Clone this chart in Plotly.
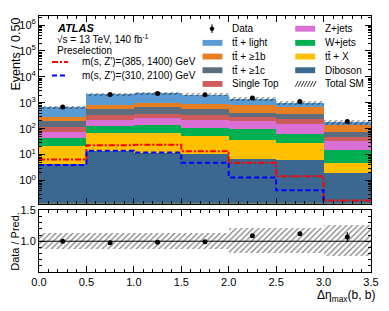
import plotly.graph_objects as go

# ---------------- data ----------------
bin_edges = [0.0, 0.5, 1.0, 1.5, 2.0, 2.5, 3.0, 3.5]
bin_centers = [0.25, 0.75, 1.25, 1.75, 2.25, 2.75, 3.25]

diboson = [4.3, 13.5, 11.5, 10.8, 7.0, 6.0, 1.9]
ttx = [18, 57.5, 54.5, 41, 30, 21, 3.0]
wjets = [21, 57, 71, 58, 61, 35, 10.4]
zjets = [31, 98, 125, 116, 97, 88, 18.7]
single_top = [42, 114, 118, 104, 85, 90, 16]
tt_1c = [81, 230, 310, 260, 140, 140, 28]
tt_1b = [89, 260, 310, 330, 400, 280, 64]
tt_light = [404, 1320, 1300, 1160, 600, 340, 38]

data = [690, 2095, 2265, 2060, 1545, 1120, 192]
data_err = [26, 46, 48, 45, 39, 33, 14]
rel_unc = [0.13, 0.13, 0.13, 0.13, 0.205, 0.205, 0.25]

sig_385_1400 = [6.5, 23, 24, 13.5, 4.9, 1.45, 0.17]
sig_310_2100 = [4.0, 14, 12, 4.9, 1.3, 0.42, 0.05]

# order bottom -> top
stack = [
    ("Diboson", diboson, "#3b6890"),
    ("tt̄ + X", ttx, "#ffc000"),
    ("W+jets", wjets, "#00b050"),
    ("Z+jets", zjets, "#da70d6"),
    ("Single Top", single_top, "#cd5c5c"),
    ("tt̄ + ≥1c", tt_1c, "#5d6d7e"),
    ("tt̄ + ≥1b", tt_1b, "#e67e22"),
    ("tt̄ + light", tt_light, "#5a9bd4"),
]

cum = []
run = [0.0] * len(bin_centers)
for name, vals, col in stack:
    run = [a + b for a, b in zip(run, vals)]
    cum.append((name, list(run), col))
total = cum[-1][1]

FONT = "Liberation Sans, Arial, sans-serif"
HATCH = dict(shape="/", fgcolor="black", bgcolor="rgba(0,0,0,0)", size=4, solidity=0.3)

fig = go.Figure()

for name, tops, col in reversed(cum):
    fig.add_trace(go.Bar(
        x=bin_centers, y=tops, width=0.5, name=name,
        marker=dict(color=col, line=dict(width=0)),
        xaxis="x", yaxis="y", showlegend=False, hoverinfo="skip",
    ))

fig.add_trace(go.Bar(
    x=bin_centers,
    y=[2 * u * t for u, t in zip(rel_unc, total)],
    base=[(1 - u) * t for u, t in zip(rel_unc, total)],
    width=0.5, name="Total SM",
    marker=dict(color="rgba(0,0,0,0)", line=dict(width=0), pattern=HATCH),
    xaxis="x", yaxis="y", showlegend=False, hoverinfo="skip",
))

def step(vals):
    return list(vals) + [vals[-1]]

fig.add_trace(go.Scatter(
    x=bin_edges, y=step(sig_385_1400), mode="lines", line_shape="hv",
    line=dict(color="#ff0000", width=2, dash="6px,2px,2px,2px"),
    name="m(s, Z')=(385, 1400) GeV", xaxis="x", yaxis="y", showlegend=False))
fig.add_trace(go.Scatter(
    x=bin_edges, y=step(sig_310_2100), mode="lines", line_shape="hv",
    line=dict(color="#0000ff", width=2, dash="5px,3px"),
    name="m(s, Z')=(310, 2100) GeV", xaxis="x", yaxis="y", showlegend=False))

fig.add_trace(go.Scatter(
    x=bin_centers, y=data, mode="markers", name="Data",
    marker=dict(color="black", size=5),
    error_y=dict(type="data", array=data_err, color="black", width=0, thickness=1),
    xaxis="x", yaxis="y", showlegend=False))

# ---------------- ratio panel ----------------
ratio = [d / t for d, t in zip(data, total)]
ratio_err = [e / t for e, t in zip(data_err, total)]

fig.add_trace(go.Bar(
    x=bin_centers, y=[2 * u for u in rel_unc], base=[1 - u for u in rel_unc],
    width=0.5, showlegend=False, hoverinfo="skip",
    marker=dict(color="rgba(0,0,0,0)", line=dict(width=0), pattern=HATCH),
    xaxis="x2", yaxis="y2"))
fig.add_trace(go.Scatter(
    x=[0, 3.5], y=[1, 1], mode="lines", line=dict(color="black", width=1),
    showlegend=False, hoverinfo="skip", xaxis="x2", yaxis="y2"))
fig.add_trace(go.Scatter(
    x=bin_centers, y=ratio, mode="markers",
    marker=dict(color="black", size=5),
    error_y=dict(type="data", array=ratio_err, color="black", width=0, thickness=1.2),
    showlegend=False, xaxis="x2", yaxis="y2"))

# ---------------- layout ----------------
W, H = 389, 311
L, R, T, B = 39, 17, 10, 39
pw, ph = W - L - R, H - T - B

def px(xp):
    return (xp - L) / pw

def py(yp):
    return (H - B - yp) / ph

main_bottom, ratio_top = 202, 209

axis_common = dict(showline=True, linecolor="black", linewidth=1, mirror="allticks",
                   ticks="inside", tickcolor="black", showgrid=False, zeroline=False,
                   tickfont=dict(family=FONT, size=11, color="black"))

log_minor = [k * 10 ** e for e in range(-1, 7) for k in range(2, 10)]

fig.update_layout(
    width=W, height=H, margin=dict(l=L, r=R, t=T, b=B),
    paper_bgcolor="white", plot_bgcolor="white",
    barmode="overlay", bargap=0, showlegend=False,
    font=dict(family=FONT, size=10, color="black"),
    xaxis=dict(axis_common, range=[0, 3.5], anchor="y", showticklabels=False,
               dtick=0.5, tick0=0, ticklen=6,
               minor=dict(ticks="inside", dtick=0.1, ticklen=3, tickcolor="black")),
    yaxis=dict(axis_common, type="log", range=[-0.89, 6.35],
               domain=[py(main_bottom), 1], anchor="x",
               tickvals=[1, 10, 100, 1e3, 1e4, 1e5, 1e6],
               ticktext=["10<sup>0</sup>", "10<sup>1</sup>", "10<sup>2</sup>", "10<sup>3</sup>",
                         "10<sup>4</sup>", "10<sup>5</sup>", "10<sup>6</sup>"],
               ticklen=6,
               minor=dict(ticks="inside", tickvals=log_minor, ticklen=3, tickcolor="black")),
    xaxis2=dict(axis_common, range=[0, 3.5], anchor="y2", matches="x",
                tickvals=[0, 0.5, 1, 1.5, 2, 2.5, 3, 3.5],
                ticktext=["0.0", "0.5", "1.0", "1.5", "2.0", "2.5", "3.0", "3.5"],
                ticklen=6,
                minor=dict(ticks="inside", dtick=0.1, ticklen=3, tickcolor="black")),
    yaxis2=dict(axis_common, range=[0.5, 1.5], domain=[0, py(ratio_top)], anchor="x2",
                tickvals=[1.0, 1.5], ticktext=["1.0", "1.5"], ticklen=6,
                minor=dict(ticks="inside", dtick=0.1, ticklen=3, tickcolor="black")),
)

ann = []
shapes = []

def text(x, y, s, size=10, anchor="left", angle=0, yanchor="middle"):
    ann.append(dict(x=px(x), y=py(y), xref="paper", yref="paper", text=s,
                    showarrow=False, xanchor=anchor, yanchor=yanchor, textangle=angle,
                    font=dict(family=FONT, size=size, color="black")))

text(15, 10, "Events / 0.50", size=12.5, anchor="center", angle=-90, yanchor="top")
text(15, 241, "Data / Pred.", size=11, anchor="center", angle=-90)
text(379, 297, "Δη<sub>max</sub>(b, b)", size=12, anchor="right")

text(55, 22.5, "<b><i>ATLAS</i></b>", size=11)
text(55, 34, "√s = 13 TeV, 140 fb<sup>-1</sup>", size=10)
text(55, 45.5, "Preselection", size=10)

shapes.append(dict(type="line", xref="paper", yref="paper",
                   x0=px(52), x1=px(68), y0=py(57), y1=py(57),
                   line=dict(color="#ff0000", width=2, dash="6px,2px,2px,2px")))
text(80, 57, "m(s, Z')=(385, 1400) GeV", size=10)
shapes.append(dict(type="line", xref="paper", yref="paper",
                   x0=px(52), x1=px(68), y0=py(71), y1=py(71),
                   line=dict(color="#0000ff", width=2, dash="5px,3px")))
text(80, 71, "m(s, Z')=(310, 2100) GeV", size=10)

rows = [23, 37.5, 51.5, 65.5, 79.5]
colors = {n: c for n, v, c in stack}
col1 = ["Data", "tt̄ + light", "tt̄ + ≥1b", "tt̄ + ≥1c", "Single Top"]
col2 = ["Z+jets", "W+jets", "tt̄ + X", "Diboson", "Total SM"]
for names, x0, xt in [(col1, 203, 231), (col2, 296, 324)]:
    for name, yr in zip(names, rows):
        if name == "Data":
            shapes.append(dict(type="line", xref="paper", yref="paper",
                               x0=px(212.5), x1=px(212.5), y0=py(yr - 4.5), y1=py(yr + 4.5),
                               line=dict(color="black", width=1)))
            shapes.append(dict(type="circle", xref="paper", yref="paper",
                               x0=px(210.5), x1=px(214.5), y0=py(yr + 2), y1=py(yr - 2),
                               fillcolor="black", line=dict(color="black", width=0.5)))
        elif name == "Total SM":
            for k in range(7):
                xa = x0 + k * 3
                shapes.append(dict(type="line", xref="paper", yref="paper",
                                   x0=px(xa), x1=px(xa + 3), y0=py(yr + 3), y1=py(yr - 3),
                                   line=dict(color="black", width=0.8)))
        else:
            shapes.append(dict(type="rect", xref="paper", yref="paper",
                               x0=px(x0), x1=px(x0 + 20), y0=py(yr + 3), y1=py(yr - 3),
                               fillcolor=colors[name], line=dict(width=0)))
        text(xt, yr, name, size=10)

fig.update_layout(annotations=ann, shapes=shapes)

fig.write_html("out.html", config={"displayModeBar": False},
               post_script="document.body.style.margin='0';document.body.style.overflow='hidden';")
